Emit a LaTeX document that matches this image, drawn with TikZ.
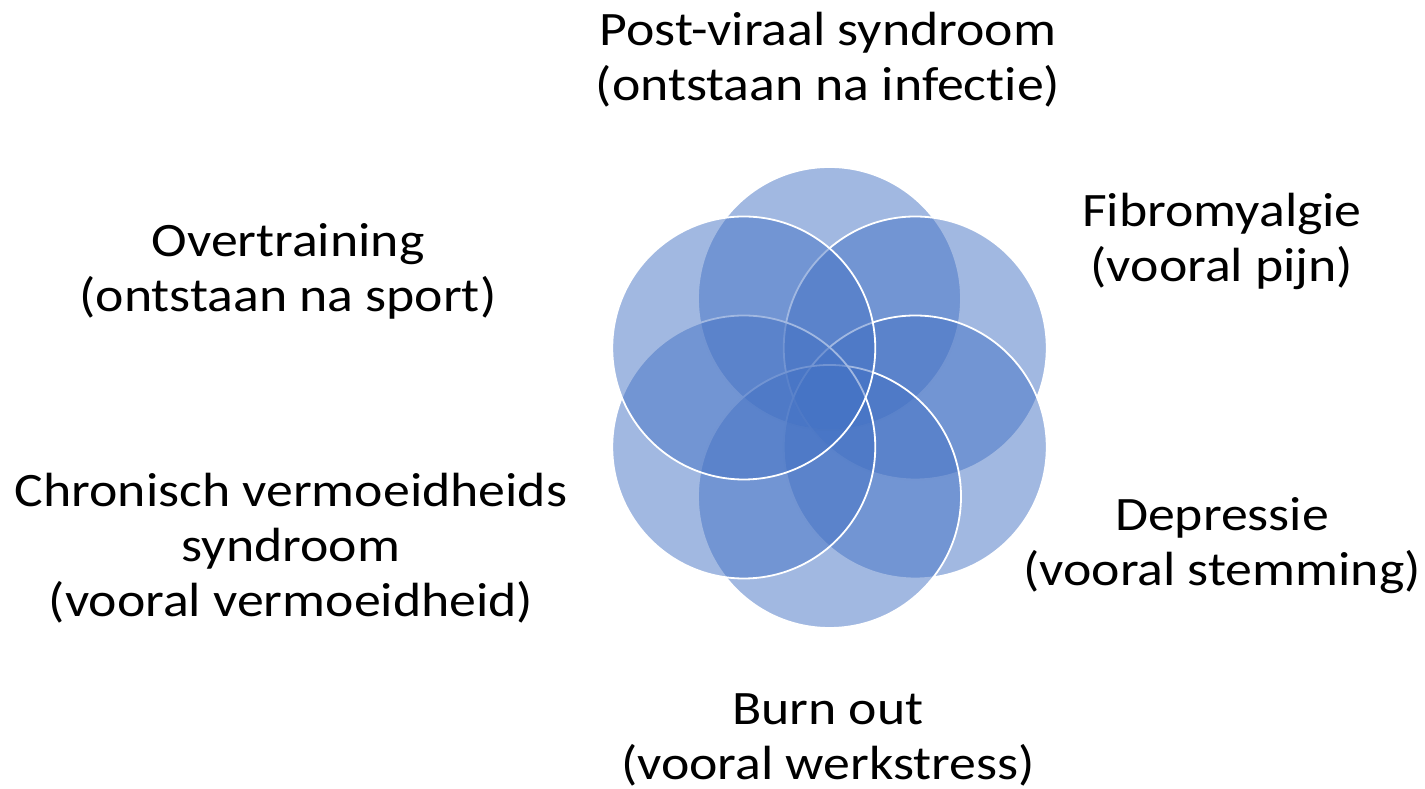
\documentclass[tikz,border=0pt]{standalone}
\usepackage{fontspec}
\setmainfont{Carlito}[FakeStretch=1.12, Ligatures=NoCommon]
\usepackage{tikz}
\usetikzlibrary{positioning, calc}
\definecolor{petalblue}{RGB}{68,114,196}

\begin{document}
\begin{tikzpicture}[x=1pt, y=1pt,
    petal/.style={circle, draw=white, line width=1.8pt, fill=petalblue, fill opacity=0.5,
        draw opacity=1, minimum size=263pt, inner sep=0pt, outer sep=0pt},
    label/.style={align=center, font=\fontsize{48}{55}\selectfont, text=black, inner sep=0pt}]
\useasboundingbox (0,0) rectangle (1425,789);

% Flower of six overlapping circles
\coordinate (mid) at (829.5, 391.5);
\foreach \a [count=\i] in {90,30,-30,-90,-150,-210} {
    \node[petal] (petal\i) at ($(mid)+(\a:99)$) {};
}

% Labels
\node[label] (postviral) at (828, 729) {Post-viraal syndroom\\(ontstaan na infectie)};
\node[label] (fibro) at (1222, 548) {Fibromyalgie\\(vooral pijn)};
\node[label] (depressie) at (1222, 243) {Depressie\\(vooral stemming)};
\node[label] (burnout) at (828, 49) {Burn out\\(vooral werkstress)};
\node[label] (cvs) at (291, 241) {Chronisch vermoeidheids\\syndroom\\(vooral vermoeidheid)};
\node[label] (overtraining) at (288, 518) {Overtraining\\(ontstaan na sport)};
\end{tikzpicture}
\end{document}
